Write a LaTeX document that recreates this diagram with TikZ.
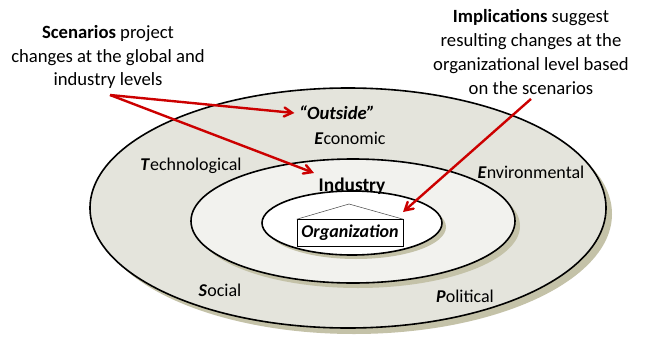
\documentclass[tikz,border=0pt]{standalone}
\usepackage{fontspec}
\setmainfont{Carlito}
\usetikzlibrary{positioning,arrows}
\definecolor{ringout}{HTML}{E4E4DC}
\definecolor{ringmid}{HTML}{F2F2EE}
\definecolor{ringshade}{HTML}{C4C2A8}
\definecolor{arrowred}{HTML}{CC0000}

\begin{document}
\begin{tikzpicture}[x=0.75pt, y=-0.75pt, >=angle 60,
	note/.style={align=center, font=\fontsize{14}{17.8}\selectfont},
	ringlbl/.style={font=\fontsize{13.5}{16}\selectfont},
	ring/.style={line width=1.2pt},
	pointer/.style={->, arrowred, line width=1.8pt}]
\useasboundingbox (0,0) rectangle (657,336);

% rings with their shadows
\fill [ringshade] (354,214) ellipse (258 and 120);
\filldraw [ring, fill=ringout] (348,208) ellipse (258 and 120);
\fill [ringshade] (358,226) ellipse (162 and 62);
\filldraw [ring, fill=ringmid] (353,221) ellipse (162 and 62);
\fill [ringshade] (356,227) ellipse (90 and 32);
\filldraw [ring, fill=white] (352,223) ellipse (90 and 32);

% organization box with roof
\node [draw, fill=white, minimum width=106*0.75pt, minimum height=27*0.75pt,
	font=\fontsize{13.5}{15}\selectfont\bfseries\itshape] (org) at (350,233) {Organization};
\coordinate (roof) at (349,204);
\draw [black!70] (org.north west) -- (roof) -- (org.north east);

% ring labels
\node [font=\fontsize{14}{17}\selectfont\bfseries\itshape] (outside) at (337,113) {``Outside''};
\node [ringlbl] (econ) at (350,138) {\textbf{\textit{E}}conomic};
\node [ringlbl] (tech) at (191,166) {\textbf{\textit{T}}echnological};
\node [ringlbl] (env) at (531,172) {\textbf{\textit{E}}nvironmental};
\node [ringlbl] (soc) at (220,290) {\textbf{\textit{S}}ocial};
\node [ringlbl] (pol) at (465,296) {\textbf{\textit{P}}olitical};
\node [font=\fontsize{14.5}{17}\selectfont\bfseries] (industry) at (352,186) {Industry};

% notes
\node [note] (scen) at (108,57) {\textbf{Scenarios} project\\changes at the global and\\industry levels};
\node [note] (impl) at (531,52) {\textbf{Implications} suggest\\resulting changes at the\\organizational level based\\on the scenarios};

% pointers
\coordinate (scenfoot) at (110,95);
\coordinate (orgtip) at (403,212);
\draw [pointer] (scenfoot) -- (outside.west);
\draw [pointer] (scenfoot) -- (industry.north west);
\draw [pointer] (impl.south) -- (orgtip);
\end{tikzpicture}
\end{document}
